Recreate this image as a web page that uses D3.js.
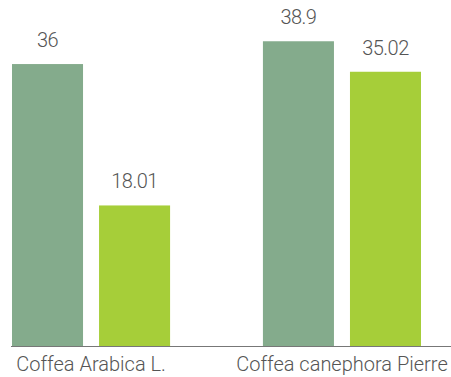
<!DOCTYPE html>
<html><head><meta charset="utf-8">
<script src="https://cdn.jsdelivr.net/npm/d3@7"></script>
<style>
body{margin:0;background:#fff}
text{font-family:Roboto,sans-serif;fill:#555}
</style>
</head><body>
<svg id="chart" width="451" height="377"></svg>
<script>
// values
const categories = ["Coffea Arabica L.", "Coffea canephora Pierre"]
const series = ["a", "b"]
const seriesA = [36, 38.9]
const seriesB = [18.01, 35.02]
const colors = ["#84ab8c", "#a6ce39"]

const width = 451, height = 377
const baseY = 347
const svg = d3.select("#chart")

const rows = categories.map((c,i) => ({cat: c, vals: [seriesA[i], seriesB[i]]}))

const x0 = d3.scaleBand().domain(categories).range([12, 421]).paddingInner(0.37).paddingOuter(0)
const x1 = d3.scaleBand().domain(series).range([0, x0.bandwidth()]).paddingInner(0.184)
const y = d3.scaleLinear().domain([0, 44.15]).range([baseY, 0])

const g = svg.selectAll("g.grp").data(rows).enter()
  .append("g").attr("class","grp")
  .attr("transform", d => `translate(${x0(d.cat)},0)`)

g.selectAll("rect").data(d => d.vals).enter()
  .append("rect")
  .attr("x", (v,i) => x1(series[i]))
  .attr("y", v => y(v))
  .attr("width", x1.bandwidth())
  .attr("height", v => baseY - y(v))
  .attr("fill", (v,i) => colors[i])

g.selectAll("text.val").data(d => d.vals).enter()
  .append("text").attr("class","val")
  .attr("x", (v,i) => x1(series[i]) + x1.bandwidth()/2)
  .attr("y", v => y(v) - 17)
  .attr("text-anchor","middle")
  .attr("font-size", 20)
  .attr("font-weight", 300)
  .attr("letter-spacing", -0.5)
  .text(v => v)

// axis line
svg.append("line").attr("x1", 11).attr("x2", width).attr("y1", baseY - 0.5).attr("y2", baseY - 0.5)
  .attr("stroke", "#777").attr("stroke-width", 1)

const axis = d3.axisBottom(x0).tickSize(0).tickPadding(0)
const ax = svg.append("g").attr("transform", `translate(0,${baseY})`).call(axis)
ax.select(".domain").remove()
ax.selectAll("text")
  .attr("dy", null).attr("y", 24)
  .attr("font-size", 20)
  .attr("font-weight", 300)
  .attr("letter-spacing", 0)
  .style("font-family", "Roboto, sans-serif").style("fill", "#555")
</script>
</body></html>
